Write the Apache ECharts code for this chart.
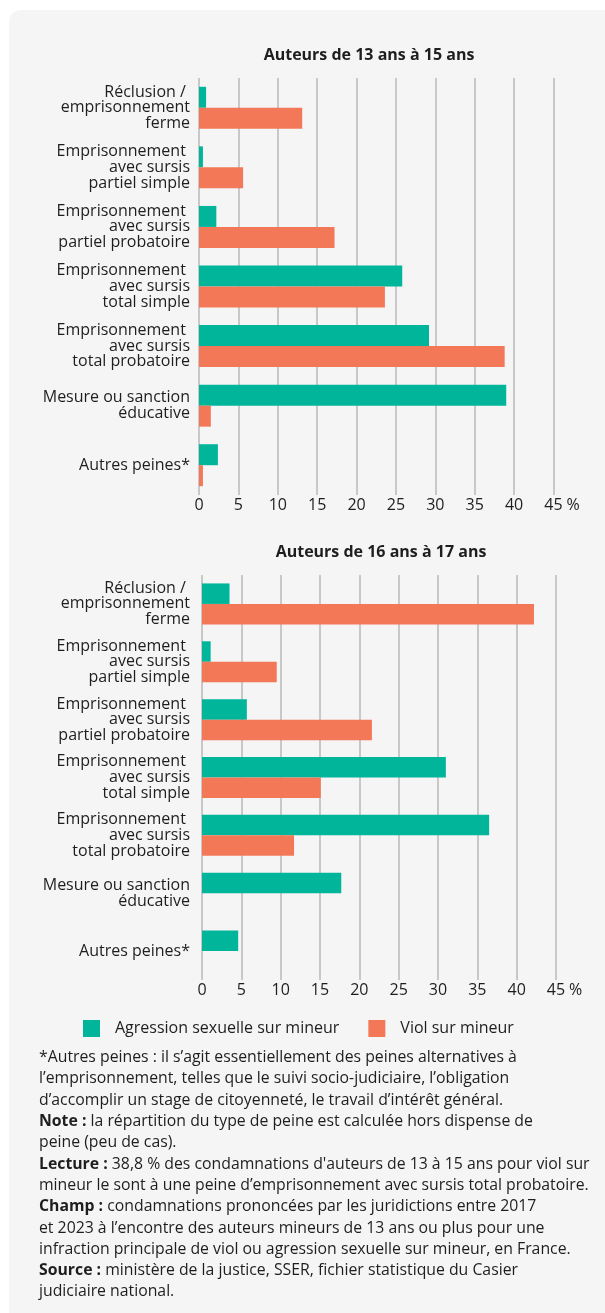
<!DOCTYPE html>
<html>
<head>
<meta charset="utf-8">
<script src="https://cdn.jsdelivr.net/npm/echarts@6/dist/echarts.min.js"></script>
<style>
  html, body { margin: 0; padding: 0; background: #fff; }
  #page { position: relative; width: 605px; height: 1313px; overflow: hidden; }
  #card { position: absolute; left: 9px; top: 10px; width: 620px; height: 1330px; background: #f5f5f5; border-radius: 12px; }
  #chart { position: absolute; left: 0; top: 0; width: 605px; height: 1313px; }
</style>
</head>
<body>
<div id="page">
  <div id="card"></div>
  <div id="chart"></div>
</div>
<script>
// categories (top to bottom)
const categories = [
  "Réclusion / \nemprisonnement\nferme",
  "Emprisonnement \navec sursis\npartiel simple",
  "Emprisonnement \navec sursis\npartiel probatoire",
  "Emprisonnement \navec sursis\ntotal simple",
  "Emprisonnement \navec sursis\ntotal probatoire",
  "Mesure ou sanction\néducative",
  "Autres peines*"
];
const seriesNames = ["Agression sexuelle sur mineur", "Viol sur mineur"];
const titles = ["Auteurs de 13 ans à 15 ans", "Auteurs de 16 ans à 17 ans"];

// % values, 13-15 ans
const agression1315 = [0.9, 0.5, 2.2, 25.8, 29.2, 39.0, 2.4];
const viol1315 = [13.1, 5.6, 17.2, 23.6, 38.8, 1.5, 0.5];
// % values, 16-17 ans
const agression1617 = [3.5, 1.1, 5.7, 31.0, 36.5, 17.7, 4.6];
const viol1617 = [42.2, 9.5, 21.6, 15.1, 11.7, 0, 0];

const xMin = 0, xMax = 45, xStep = 5;

const notes = [
  "*Autres peines : il s’agit essentiellement des peines alternatives à",
  "l’emprisonnement, telles que le suivi socio-judiciaire, l’obligation",
  "d’accomplir un stage de citoyenneté, le travail d’intérêt général.",
  "{b|Note :} la répartition du type de peine est calculée hors dispense de",
  "peine (peu de cas).",
  "{b|Lecture :} 38,8 % des condamnations d'auteurs de 13 à 15 ans pour viol sur",
  "mineur le sont à une peine d’emprisonnement avec sursis total probatoire.",
  "{b|Champ :} condamnations prononcées par les juridictions entre 2017",
  "et 2023 à l’encontre des auteurs mineurs de 13 ans ou plus pour une",
  "infraction principale de viol ou agression sexuelle sur mineur, en France.",
  "{b|Source :} ministère de la justice, SSER, fichier statistique du Casier",
  "judiciaire national."
];

const FONT = "Open Sans";
const FS = 16;
const TXT = "#1e1e1e";
const GREEN = "#00b59a";
const ORANGE = "#f37857";
const GRID_LINE = "#b8b8b8";

function xAxisOpt(gridIndex) {
  return {
    type: "value",
    gridIndex: gridIndex,
    min: xMin,
    max: xMax,
    interval: xStep,
    name: "%",
    nameLocation: "end",
    nameGap: 12,
    nameTextStyle: {
      color: TXT, fontSize: FS, fontFamily: FONT,
      verticalAlign: "top", padding: [2, 0, 0, 0]
    },
    axisLine: { show: false },
    axisTick: { show: false },
    axisLabel: { color: TXT, fontSize: FS, fontFamily: FONT, margin: 2 },
    splitLine: { show: true, lineStyle: { color: GRID_LINE, width: 1.5 } }
  };
}

function yAxisOpt(gridIndex, margin) {
  return {
    type: "category",
    gridIndex: gridIndex,
    data: categories,
    inverse: true,
    axisLine: { show: false },
    axisTick: { show: false },
    axisLabel: {
      color: TXT,
      fontSize: FS,
      fontFamily: FONT,
      lineHeight: 15.7,
      margin: margin,
      align: "right"
    }
  };
}

function barSeries(name, data, idx, color, width) {
  return {
    name: name,
    type: "bar",
    xAxisIndex: idx,
    yAxisIndex: idx,
    data: data,
    barWidth: width,
    barGap: 0,
    itemStyle: { color: color },
    emphasis: { disabled: true }
  };
}

const chart = echarts.init(document.getElementById("chart"), null, { renderer: "canvas" });

const option = {
  animation: false,
  backgroundColor: "transparent",
  textStyle: { fontFamily: FONT },
  title: [
    {
      text: titles[0],
      left: 369,
      top: 47,
      textAlign: "center",
      padding: 0,
      textStyle: { color: TXT, fontSize: FS, fontWeight: "bold", fontFamily: FONT }
    },
    {
      text: titles[1],
      left: 381,
      top: 544,
      textAlign: "center",
      padding: 0,
      textStyle: { color: TXT, fontSize: FS, fontWeight: "bold", fontFamily: FONT }
    }
  ],
  legend: {
    data: seriesNames,
    left: 83,
    top: 1020,
    icon: "rect",
    itemWidth: 17,
    itemHeight: 17,
    itemGap: 29,
    padding: 0,
    textStyle: { color: TXT, fontSize: FS, fontFamily: FONT, padding: [0, 0, 0, 10] },
    selectedMode: false
  },
  grid: [
    { left: 199, top: 78, width: 354.5, height: 417 },
    { left: 202, top: 575, width: 354, height: 405 }
  ],
  xAxis: [xAxisOpt(0), xAxisOpt(1)],
  yAxis: [yAxisOpt(0, 9), yAxisOpt(1, 12)],
  series: [
    barSeries(seriesNames[0], agression1315, 0, GREEN, 21),
    barSeries(seriesNames[1], viol1315, 0, ORANGE, 21),
    barSeries(seriesNames[0], agression1617, 1, GREEN, 20.5),
    barSeries(seriesNames[1], viol1617, 1, ORANGE, 20.5)
  ],
  graphic: [
    {
      type: "text",
      left: 39,
      top: 1047,
      style: {
        text: notes.join("\n"),
        fill: TXT,
        fontSize: 15.8,
        fontFamily: FONT,
        lineHeight: 21.3,
        rich: {
          b: { fontWeight: "bold", fontSize: 15.8, fontFamily: FONT, lineHeight: 21.3, fill: TXT }
        }
      }
    }
  ]
};

chart.setOption(option);

window.addEventListener("resize", function () {
  chart.resize();
});
</script>
</body>
</html>
